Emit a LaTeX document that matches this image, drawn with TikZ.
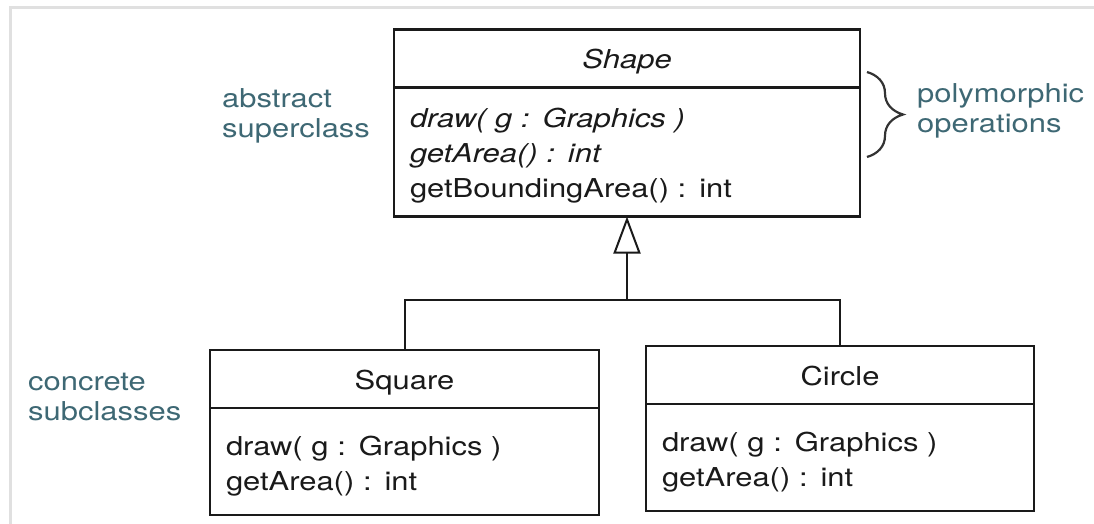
\documentclass[tikz,border=0pt]{standalone}
\usepackage{fontspec}
\setmainfont{TeX Gyre Heros}[FakeStretch=1.19]
\usepackage{xcolor}
\usepackage{tikz}
\usetikzlibrary{positioning,arrows.meta,decorations.pathreplacing}
\definecolor{notecol}{RGB}{62,104,116}
\definecolor{framecol}{RGB}{224,224,224}
\definecolor{inkcol}{RGB}{26,26,26}
\newcommand{\umlfont}{\fontsize{26}{35}\selectfont}
\newcommand{\notefont}{\fontsize{26}{30}\selectfont}
\tikzset{
  cls/.style  = {draw=inkcol, text=inkcol, line width=2.3pt, inner sep=0pt,
                 outer sep=0pt, font=\umlfont},
  hdr/.style  = {cls, minimum height=58pt, text height=20pt, text depth=0pt},
  ops/.style  = {cls, anchor=north, align=left, inner xsep=16pt},
  note/.style = {align=left, inner sep=0pt, anchor=base west,
                 text=notecol, font=\notefont},
  lnk/.style  = {draw=inkcol, line width=2pt},
  gen/.style  = {lnk, -{Triangle[open, length=37pt, width=27pt]}},
  brc/.style  = {decorate, decoration={brace, amplitude=36pt},
                 line width=2.2pt, draw=black!80},
  frm/.style  = {draw=framecol, line width=3pt},
}

\begin{document}
\begin{tikzpicture}[x=1pt, y=-1pt]
\useasboundingbox (0,0) rectangle (1094,524);
\fill[white] (0,0) rectangle (1094,524);

% --- frame ---
\draw[frm] (10,524) |- (1094,8);

% --- abstract superclass ---
\node[hdr, minimum width=466pt] (shapehd) at (627,58.5) {\itshape Shape};
\node[ops, minimum width=466pt, text width=434pt,
      text height=40pt, text depth=89pt]
     (shapeops) at (shapehd.south)
     {\textit{draw( g : Graphics )}\\\textit{getArea() : int}\\getBoundingArea() : int};

% --- concrete subclasses ---
\node[hdr, minimum width=389pt] (squarehd) at (404.5,379) {Square};
\node[ops, minimum width=389pt, text width=357pt,
      text height=47pt, text depth=60pt]
     (squareops) at (squarehd.south)
     {draw( g : Graphics )\\getArea() : int};
\node[hdr, minimum width=388pt] (circlehd) at (840,375) {Circle};
\node[ops, minimum width=388pt, text width=356pt,
      text height=47pt, text depth=60pt]
     (circleops) at (circlehd.south)
     {draw( g : Graphics )\\getArea() : int};

% --- generalisation ---
\coordinate (fork) at (shapeops.south |- 0,300);
\draw[lnk] (squarehd.north) |- (fork) -| (circlehd.north);
\draw[gen] (fork) -- (shapeops.south);

% --- notes (anchored on the last line) ---
\node[note] (absnote) at (222,138) {abstract\\superclass};
\node[note] (polynote) at (917,132) {polymorphic\\operations};
\node[note] (concnote) at (28,420) {concrete\\subclasses};

\coordinate (bracetop) at (867,72);
\coordinate (bracebot) at (867,157);
\draw[brc] (bracetop) -- (bracebot);
\end{tikzpicture}
\end{document}
